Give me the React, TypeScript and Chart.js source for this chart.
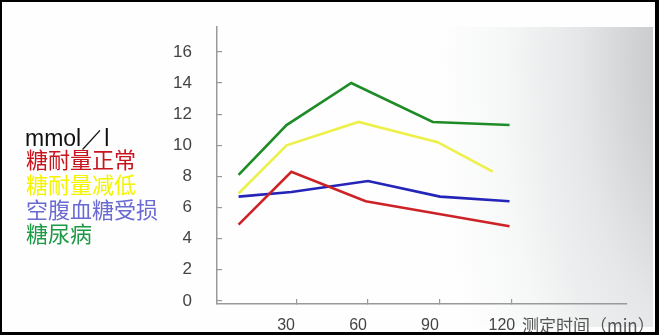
import React, { useEffect, useRef } from 'react';
import { Chart, registerables } from 'chart.js';

Chart.register(...registerables);

// ---- data ----
const seriesNames = ['糖耐量正常', '糖耐量减低', '空腹血糖受损', '糖尿病'];
const normalTimes = [6, 28, 59, 89, 119];
const normalValues = [4.9, 8.3, 6.4, 5.6, 4.8];
const igtTimes = [6, 26, 56, 89, 112];
const igtValues = [6.9, 10.0, 11.5, 10.2, 8.3];
const ifgTimes = [6, 28, 60, 90, 119];
const ifgValues = [6.7, 7.0, 7.7, 6.7, 6.4];
const dmTimes = [6, 26, 53, 87, 119];
const dmValues = [8.1, 11.3, 14.0, 11.5, 11.3];
const xTickValues = [30, 60, 90, 120];
const yTickValues = [0, 2, 4, 6, 8, 10, 12, 14, 16];
const unitLabel = 'mmol／l';
const xAxisTitle = '测定时间（min）';

// ---- styles ----
const lineColors = ['#cc2228', '#eef04a', '#2424b8', '#1e8c26'];
const legendColors = ['#c8141e', '#f4f400', '#6a6ad2', '#1e9a46'];

const toPoints = (xs: number[], ys: number[]) => xs.map((x, i) => ({ x, y: ys[i] }));

const decorPlugin = {
  id: 'decor',
  beforeDraw(chart: any) {
    const { ctx, width, height } = chart;
    ctx.save();
    ctx.fillStyle = '#fefefe';
    ctx.fillRect(0, 0, width, height);
    ctx.beginPath();
    ctx.rect(440, 27, 213, 300);
    ctx.clip();
    ctx.translate(690, 60);
    ctx.scale(1, 2.4);
    const g = ctx.createRadialGradient(0, 0, 0, 0, 0, 250);
    g.addColorStop(0, 'rgb(192,194,196)');
    g.addColorStop(0.2, 'rgb(206,208,210)');
    g.addColorStop(0.45, 'rgb(229,231,232)');
    g.addColorStop(0.75, 'rgb(246,247,247)');
    g.addColorStop(1, 'rgb(254,254,254)');
    ctx.fillStyle = g;
    ctx.fillRect(-300, -100, 600, 300);
    ctx.restore();
  },
  afterDraw(chart: any) {
    const { ctx, width, height } = chart;
    ctx.save();
    // unit + legend text
    ctx.textAlign = 'left';
    ctx.textBaseline = 'alphabetic';
    ctx.fillStyle = '#111';
    ctx.font = '23px "Liberation Sans", Arial, sans-serif';
    ctx.fillText(unitLabel, 25, 146);
    ctx.font = '22px "Noto Sans CJK SC", sans-serif';
    ctx.textBaseline = 'middle';
    seriesNames.forEach((name, i) => {
      ctx.fillStyle = legendColors[i];
      ctx.fillText(name, 26, 160 + i * 24.7);
    });
    // x axis title
    const xs = chart.scales.x;
    ctx.fillStyle = '#555';
    ctx.font = '17px "Noto Sans CJK SC", sans-serif';
    ctx.fillText(xAxisTitle, xs.getPixelForValue(120) + 10, 326);
    // black frame
    ctx.fillStyle = '#000';
    ctx.fillRect(0, 0, width, 2);
    ctx.fillRect(0, 0, 2, height);
    ctx.fillRect(width - 4, 0, 4, height);
    ctx.fillRect(0, height - 3, width, 3);
    ctx.restore();
  },
};

export default function App() {
  const ref = useRef<HTMLCanvasElement | null>(null);
  useEffect(() => {
    document.body.style.margin = '0';
    if (!ref.current) return;
    const chart = new Chart(ref.current, {
      type: 'line',
      data: {
        datasets: [
          { label: seriesNames[0], data: toPoints(normalTimes, normalValues), borderColor: lineColors[0] },
          { label: seriesNames[1], data: toPoints(igtTimes, igtValues), borderColor: lineColors[1] },
          { label: seriesNames[2], data: toPoints(ifgTimes, ifgValues), borderColor: lineColors[2] },
          { label: seriesNames[3], data: toPoints(dmTimes, dmValues), borderColor: lineColors[3] },
        ].map((d) => ({ ...d, borderWidth: 2.6, pointRadius: 0, tension: 0, fill: false })),
      },
      options: {
        responsive: false,
        animation: false,
        layout: { padding: { left: 167, top: 27, right: 32, bottom: 0 } },
        plugins: { legend: { display: false }, tooltip: { enabled: false } },
        scales: {
          x: {
            type: 'linear',
            min: -3,
            max: 168,
            afterBuildTicks: (s: any) => {
              s.ticks = xTickValues.map((v) => ({ value: v }));
            },
            afterFit: (s: any) => {
              s.height = 31;
              s.paddingLeft = 0;
              s.paddingRight = 0;
            },
            ticks: {
              stepSize: 30,
              includeBounds: false,
              labelOffset: -10,
              padding: 17,
              color: '#444',
              font: { family: '"Liberation Sans", Arial, sans-serif', size: 16 },
              maxRotation: 0,
              autoSkip: false,
            },
            grid: { drawOnChartArea: false, drawTicks: true, tickLength: -5, color: '#999', lineWidth: 1.2 },
            border: { color: '#9a9a9a', width: 1.5 },
          },
          y: {
            type: 'linear',
            min: -0.2,
            max: 17.6,
            afterBuildTicks: (s: any) => {
              s.ticks = yTickValues.map((v) => ({ value: v }));
            },
            afterFit: (s: any) => {
              s.width = 50;
              s.paddingTop = 0;
              s.paddingBottom = 0;
            },
            ticks: {
              stepSize: 2,
              includeBounds: false,
              padding: 30,
              color: '#444',
              font: { family: '"Liberation Sans", Arial, sans-serif', size: 17 },
              autoSkip: false,
            },
            grid: { drawOnChartArea: false, drawTicks: true, tickLength: -5, color: '#999', lineWidth: 1.2 },
            border: { color: '#9a9a9a', width: 1.5 },
          },
        },
      },
      plugins: [decorPlugin],
    });
    return () => chart.destroy();
  }, []);
  return <canvas ref={ref} width={659} height={335} style={{ display: 'block', width: 659, height: 335 }} />;
}
